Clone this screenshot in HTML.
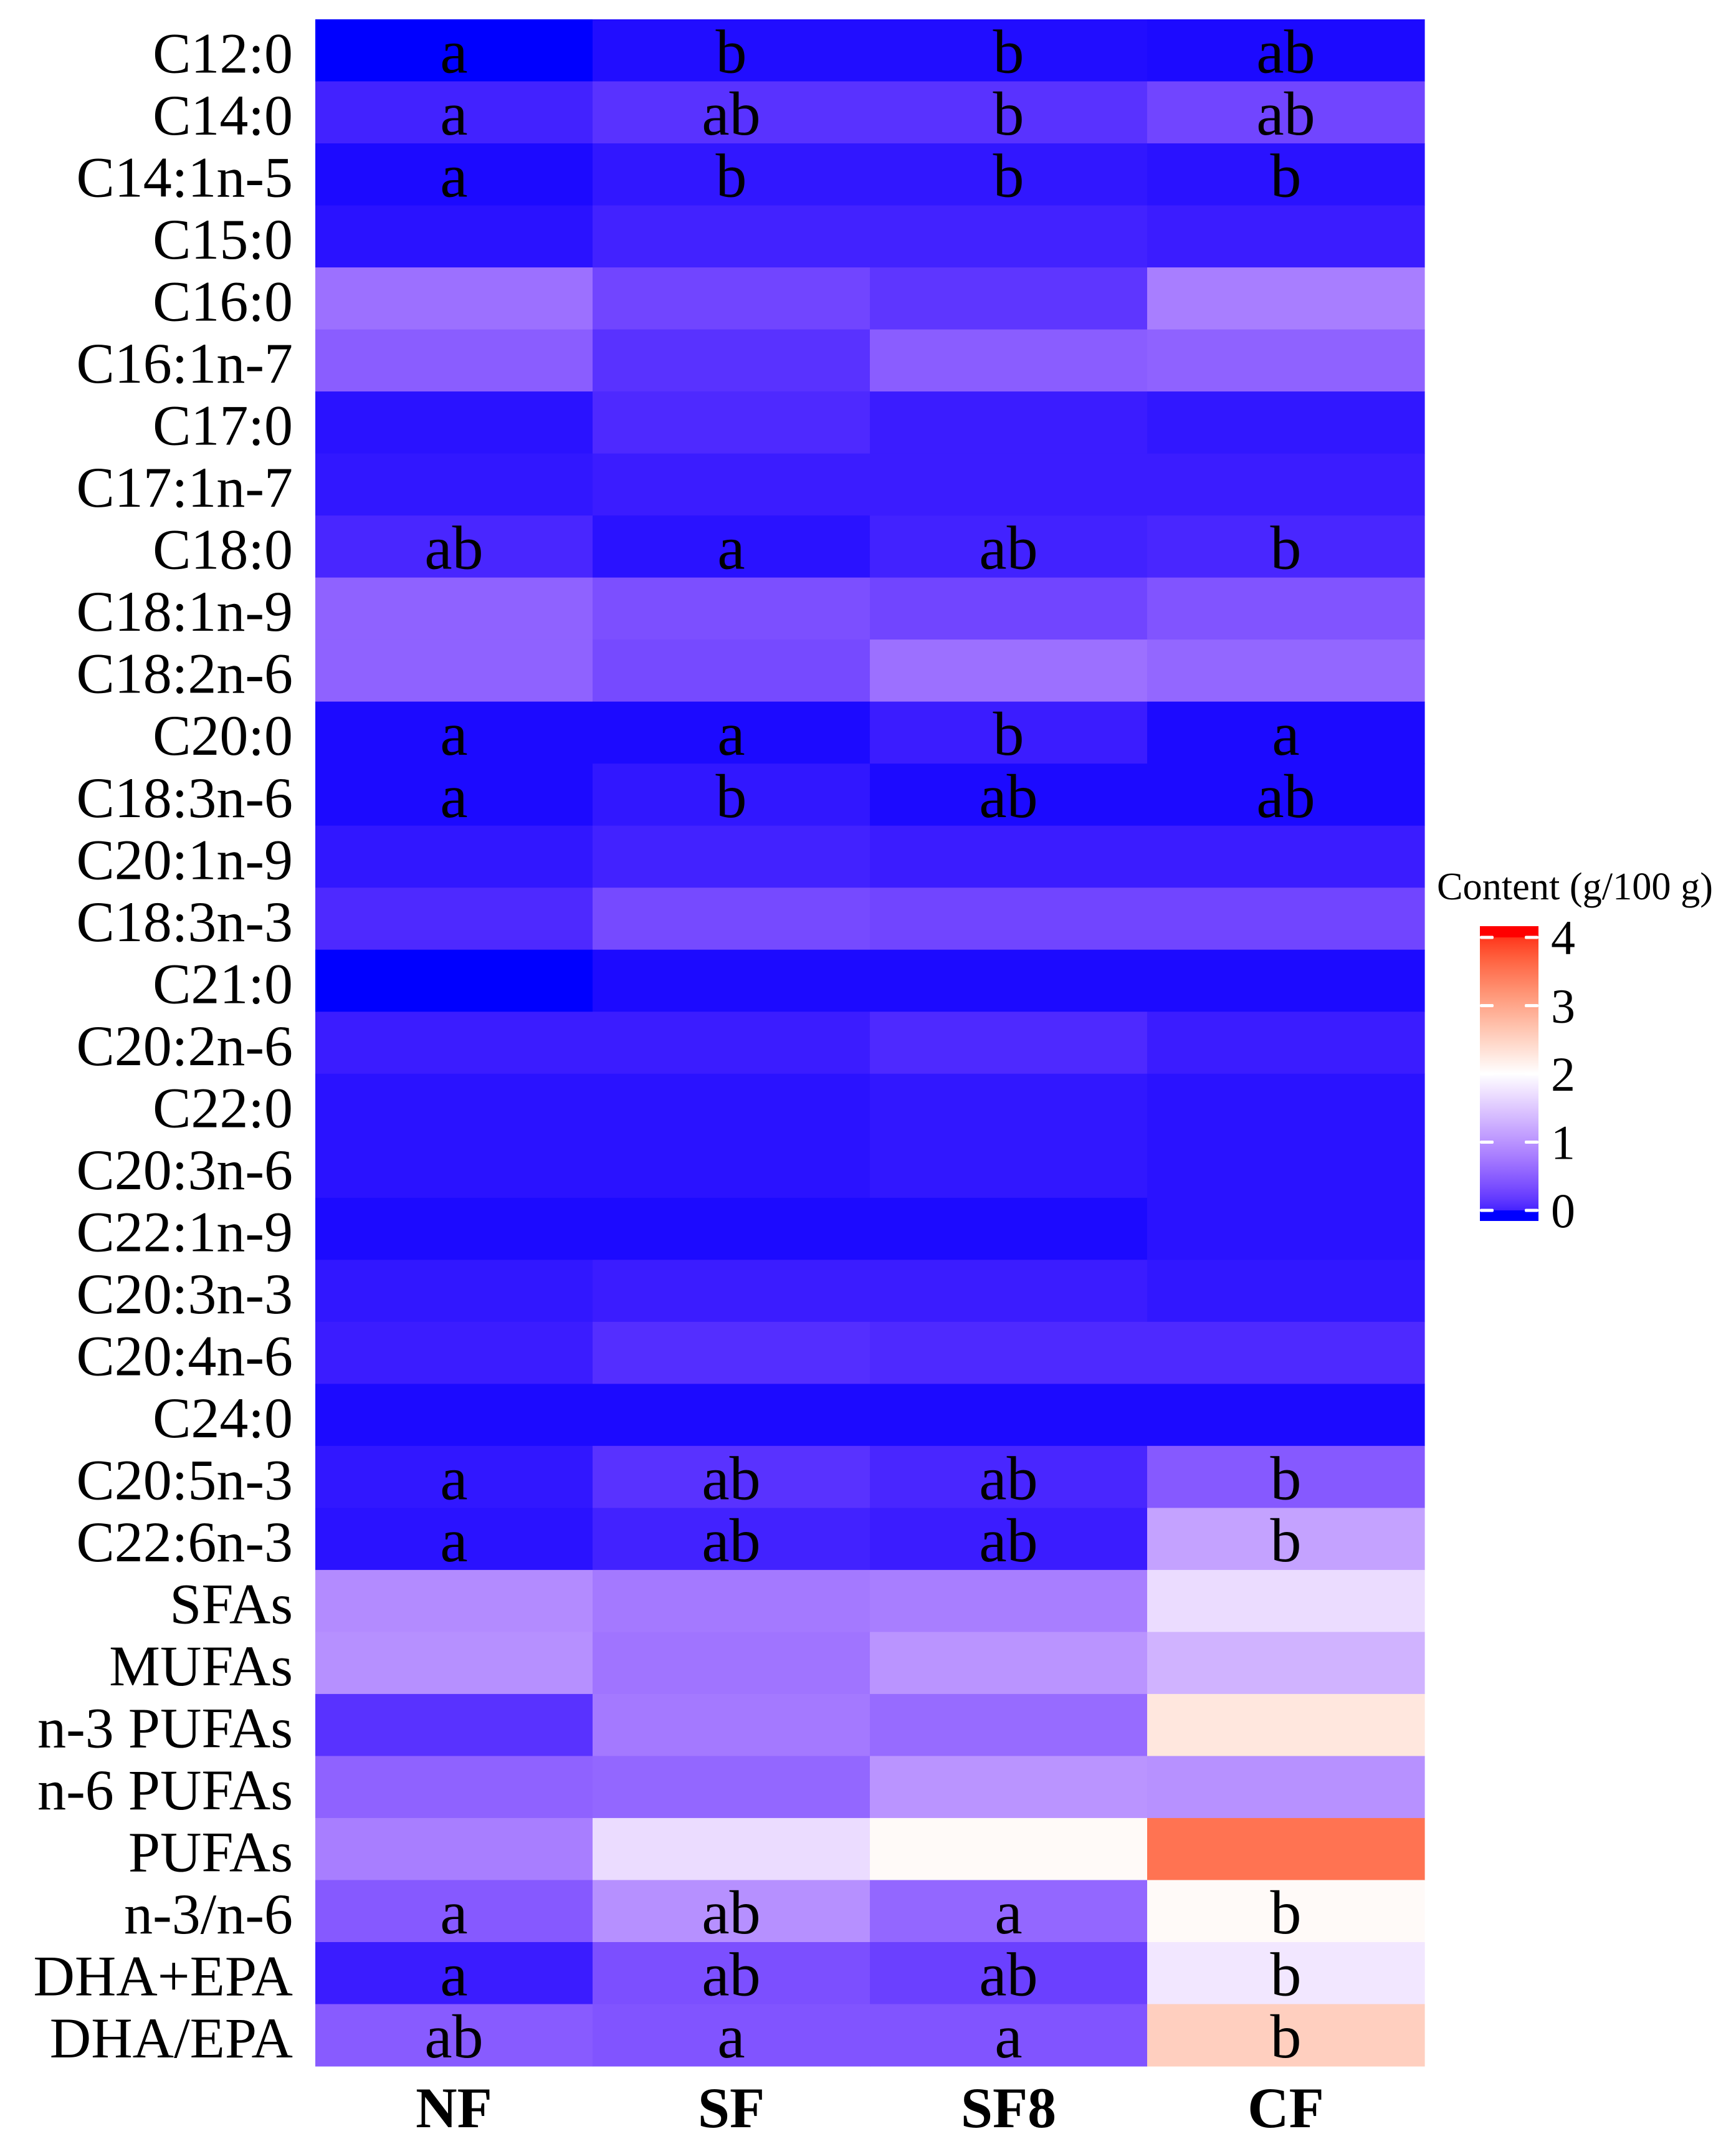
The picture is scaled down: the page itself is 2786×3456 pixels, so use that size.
<!DOCTYPE html>
<html><head><meta charset="utf-8"><style>
html,body{margin:0;padding:0;background:#fff;}
svg{display:block;}
text{font-family:"Liberation Serif",serif;}
</style></head><body>
<svg id="chart" width="2786" height="3456" xmlns="http://www.w3.org/2000/svg">
<defs><linearGradient id="cbgrad" x1="0" y1="1" x2="0" y2="0"></linearGradient></defs>
<g id="cells"></g>
<g id="ylabels"></g>
<g id="xlabels"></g>
<g id="legend"></g>
</svg>
<script>
const rows = ["C12:0","C14:0","C14:1n-5","C15:0","C16:0","C16:1n-7","C17:0","C17:1n-7","C18:0","C18:1n-9","C18:2n-6","C20:0","C18:3n-6","C20:1n-9","C18:3n-3","C21:0","C20:2n-6","C22:0","C20:3n-6","C22:1n-9","C20:3n-3","C20:4n-6","C24:0","C20:5n-3","C22:6n-3","SFAs","MUFAs","n-3 PUFAs","n-6 PUFAs","PUFAs","n-3/n-6","DHA+EPA","DHA/EPA"];
const groups = ["NF","SF","SF8","CF"];
const valNF  = [0,0.14,0.03,0.06,0.76,0.6,0.06,0.08,0.17,0.64,0.64,0.03,0.03,0.08,0.19,0,0.11,0.06,0.06,0.03,0.08,0.11,0.03,0.08,0.06,1.0,1.04,0.25,0.64,0.88,0.56,0.11,0.58];
const valSF  = [0.04,0.25,0.08,0.14,0.4,0.25,0.19,0.11,0.06,0.48,0.44,0.03,0.08,0.14,0.44,0.03,0.11,0.06,0.06,0.03,0.11,0.22,0.03,0.25,0.14,0.84,0.8,0.84,0.68,1.7,1.04,0.48,0.52];
const valSF8 = [0.04,0.25,0.08,0.14,0.28,0.6,0.11,0.11,0.14,0.4,0.76,0.11,0.03,0.11,0.4,0.03,0.19,0.08,0.08,0.03,0.11,0.19,0.03,0.17,0.11,0.88,1.08,0.72,1.08,2.05,0.68,0.36,0.52];
const valCF  = [0.03,0.4,0.06,0.11,0.88,0.64,0.08,0.11,0.17,0.52,0.68,0.03,0.03,0.11,0.4,0.03,0.11,0.06,0.06,0.06,0.08,0.19,0.03,0.56,1.2,1.7,1.35,2.25,1.05,3.4,2.05,1.8,2.5];
const letNF  = ["a","a","a","","","","","","ab","","","a","a","","","","","","","","","","","a","a","","","","","","a","a","ab"];
const letSF  = ["b","ab","b","","","","","","a","","","a","b","","","","","","","","","","","ab","ab","","","","","","ab","ab","a"];
const letSF8 = ["b","b","b","","","","","","ab","","","b","ab","","","","","","","","","","","ab","ab","","","","","","a","ab","a"];
const letCF  = ["ab","ab","b","","","","","","b","","","a","ab","","","","","","","","","","","b","b","","","","","","b","b","b"];
const legendTicks = [0,1,2,3,4];
const series=[valNF,valSF,valSF8,valCF], letters=[letNF,letSF,letSF8,letCF];

const NS="http://www.w3.org/2000/svg";
const L=506,R=2286,T=31,B=3315;
const cw=(R-L)/groups.length, rh=(B-T)/rows.length;
const xPos=i=>L+i*cw, yPos=j=>T+j*rh;

function toLin(c){c/=255;return c<=0.04045?c/12.92:Math.pow((c+0.055)/1.055,2.4);}
function fromLin(c){c=c<=0.0031308?12.92*c:1.055*Math.pow(c,1/2.4)-0.055;return Math.max(0,Math.min(255,Math.round(c*255)));}
function rgb2lab(r,g,b){r=toLin(r);g=toLin(g);b=toLin(b);
 let x=(r*0.4124+g*0.3576+b*0.1805)/0.95047,y=r*0.2126+g*0.7152+b*0.0722,z=(r*0.0193+g*0.1192+b*0.9505)/1.08883;
 const f=t=>t>0.008856?Math.cbrt(t):7.787*t+16/116;x=f(x);y=f(y);z=f(z);
 return [116*y-16,500*(x-y),200*(y-z)];}
function lab2rgb(l,a,bb){let y=(l+16)/116,x=a/500+y,z=y-bb/200;
 const fi=t=>t*t*t>0.008856?t*t*t:(t-16/116)/7.787;x=fi(x)*0.95047;y=fi(y);z=fi(z)*1.08883;
 const r=x*3.2406+y*-1.5372+z*-0.4986,g=x*-0.9689+y*1.8758+z*0.0415,b=x*0.0557+y*-0.2040+z*1.0570;
 return `rgb(${fromLin(r)},${fromLin(g)},${fromLin(b)})`;}
const labB=rgb2lab(0,0,255),labW=rgb2lab(255,255,255),labR=rgb2lab(255,0,0);
function color(v){v=Math.max(0,Math.min(4,v));let a,b,t;
 if(v<=2){a=labB;b=labW;t=v/2;}else{a=labW;b=labR;t=(v-2)/2;}
 return lab2rgb(a[0]+(b[0]-a[0])*t,a[1]+(b[1]-a[1])*t,a[2]+(b[2]-a[2])*t);}
function mk(tag,attrs,parent,txt){const e=document.createElementNS(NS,tag);for(const k in attrs)e.setAttribute(k,attrs[k]);if(txt!==undefined)e.textContent=txt;parent.appendChild(e);return e;}

const gc=document.getElementById('cells'),gy=document.getElementById('ylabels'),gx=document.getElementById('xlabels'),gl=document.getElementById('legend');
series.forEach((s,i)=>{s.forEach((v,j)=>{
 const r=mk('rect',{x:xPos(i),y:yPos(j),width:cw+0.6,height:rh+0.6,fill:color(v)},gc);
 
 
 const lt=letters[i][j];
 if(lt){const t=mk('text',{x:xPos(i)+cw/2,y:yPos(j)+rh*0.86,'text-anchor':'middle','font-size':100,fill:'#000'},gc,lt);
  
  }
});});
rows.forEach((r,j)=>{const t=mk('text',{x:470,y:yPos(j)+rh*0.86,'text-anchor':'end','font-size':92,fill:'#000'},gy,r);
 
 });
groups.forEach((g,i)=>{const t=mk('text',{x:xPos(i)+cw/2,y:3413,'text-anchor':'middle','font-size':92,'font-weight':'bold',fill:'#000'},gx,g);
 
 });
// legend
const grad=document.getElementById('cbgrad');
for(let k=0;k<=40;k++){mk('stop',{offset:(k/40),'stop-color':color(k/10)},grad);}
const cbX=2375,cbW=94,cbT=1486,cbB=1959,y0=1942,y4=1504;
const cy=v=>y0+(y4-y0)*v/4;
const title=mk('text',{x:2306,y:1443,'font-size':62,textLength:443,lengthAdjust:'spacingAndGlyphs',fill:'#000'},gl,'Content (g/100 g)');


const bar=mk('rect',{x:cbX,y:cbT,width:cbW,height:cbB-cbT,fill:'url(#cbgrad)'},gl);


mk('rect',{x:cbX,y:cbT,width:cbW,height:y4-cbT,fill:color(4)},gl);
mk('rect',{x:cbX,y:y0,width:cbW,height:cbB-y0,fill:color(0)},gl);
legendTicks.forEach(v=>{
 mk('rect',{x:cbX,y:cy(v)-2.5,width:22,height:5,rx:2,fill:'#fff'},gl);
 mk('rect',{x:cbX+cbW-22,y:cy(v)-2.5,width:22,height:5,rx:2,fill:'#fff'},gl);
 const t=mk('text',{x:2489,y:cy(v)+27,'font-size':78,fill:'#000'},gl,String(v));
 
 
});
</script>
</body></html>
